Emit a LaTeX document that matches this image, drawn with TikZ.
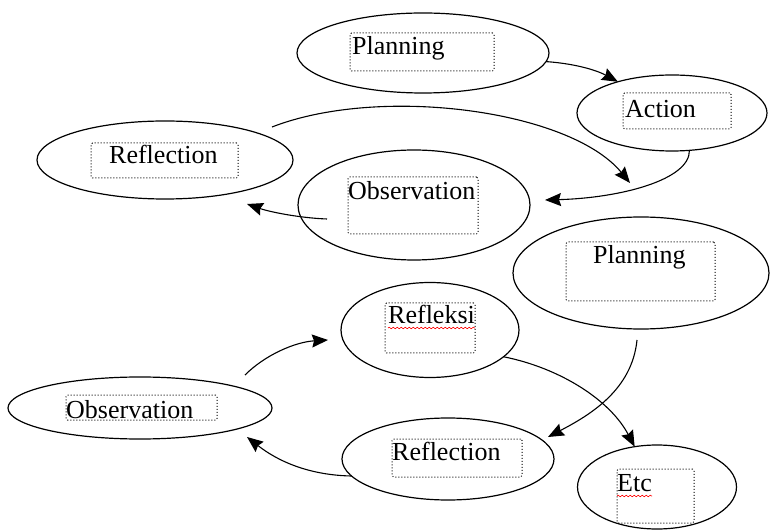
\documentclass[tikz,border=0pt]{standalone}
\usepackage{fontspec}
\setmainfont{Liberation Serif}
\usetikzlibrary{arrows.meta,shapes.geometric,decorations.pathmorphing}
\begin{document}
\begin{tikzpicture}[x=1pt,y=1pt,
 oval/.style={draw=black, line width=1.2pt, ellipse, inner sep=0pt, outer sep=0pt},
 tbox/.style={draw=black, dotted, line width=1pt, rounded corners=1.5pt, inner sep=0pt, outer sep=0pt},
 lbl/.style={font=\fontsize{26}{31}\selectfont, inner sep=0pt, anchor=base west},
 arr/.style={line width=1.1pt, -{Stealth[length=16pt,width=13pt,inset=2pt]}},
 wavy/.style={red, line width=0.6pt, decorate, decoration={snake, amplitude=0.8pt, segment length=4pt}}]
\useasboundingbox (0,0) rectangle (770,530);

% ellipses
\node[oval, minimum width=252pt, minimum height=80pt] (p1) at (423,477) {};
\node[oval, minimum width=190pt, minimum height=76pt] (p2) at (672,417) {};
\node[oval, minimum width=256pt, minimum height=78pt] (p3) at (165,370) {};
\node[oval, minimum width=232pt, minimum height=110pt] (p4) at (414,325) {};
\node[oval, minimum width=256pt, minimum height=112pt] (p5) at (641,257) {};
\node[oval, minimum width=178pt, minimum height=95pt] (p6) at (430,200) {};
\node[oval, minimum width=264pt, minimum height=62pt] (p7) at (140,122) {};
\node[oval, minimum width=212pt, minimum height=82pt] (p8) at (448,71) {};
\node[oval, minimum width=159pt, minimum height=84pt] (p9) at (657,43) {};

% dotted text boxes
\node[tbox, minimum width=144pt, minimum height=38pt] (b1) at (422,478) {};
\node[tbox, minimum width=108pt, minimum height=36pt] (b2) at (677,419) {};
\node[tbox, minimum width=147pt, minimum height=35pt] (b3) at (164.5,369.5) {};
\node[tbox, minimum width=130pt, minimum height=57pt] (b4) at (413,324.5) {};
\node[tbox, minimum width=149pt, minimum height=59pt] (b5) at (640.5,258.5) {};
\node[tbox, minimum width=90pt, minimum height=50pt] (b6) at (430,202) {};
\node[tbox, minimum width=151pt, minimum height=25pt] (b7) at (141.5,122.5) {};
\node[tbox, minimum width=130pt, minimum height=38pt] (b8) at (457,72) {};
\node[tbox, minimum width=77pt, minimum height=54pt] (b9) at (655.5,34) {};

% labels
\node[lbl] (t1) at (352,475) {Planning};
\node[lbl] (t2) at (625,412) {Action};
\node[lbl] (t3) at (109,366) {Reflection};
\node[lbl] (t4) at (348,330) {Observation};
\node[lbl] (t5) at (593,266) {Planning};
\node[lbl] (t6) at (388,206) {Refleksi};
\node[lbl] (t7) at (66,112) {Observation};
\node[lbl] (t8) at (392,70) {Reflection};
\node[lbl] (t9) at (617,39) {Etc};

\draw[wavy] ([yshift=-4pt]t6.base west) -- ([yshift=-4pt]t6.base east);
\draw[wavy] ([yshift=-5pt]t9.base west) -- ([yshift=-5pt]t9.base east);

% free ends
\coordinate (a2s) at (272,403);
\coordinate (a2e) at (630,347);
\coordinate (a4s) at (327,311);
\coordinate (a4e) at (247,326);
\coordinate (a5s) at (637,190);
\coordinate (a5e) at (548,93);
\coordinate (a7e) at (247,93);
\coordinate (a8s) at (245,155);
\coordinate (a8e) at (328,190);
\coordinate (a3e) at (545,330);

% connectors
\draw[arr] (p1.-4) .. controls (580,466) and (600,458) .. (p2.150);
\draw[arr] (a2s) .. controls (380,445) and (570,420) .. (a2e);
\draw[arr] (p2.-65) .. controls (690,350) and (620,332) .. (a3e);
\draw[arr] (a4s) .. controls (300,312) and (270,318) .. (a4e);
\draw[arr] (a5s) .. controls (632,140) and (590,115) .. (a5e);
\draw[arr] (p6.-20) .. controls (560,162) and (610,130) .. (p9.119);
\draw[arr] (p8.190) .. controls (300,55) and (270,75) .. (a7e);
\draw[arr] (a8s) .. controls (265,175) and (295,188) .. (a8e);
\end{tikzpicture}
\end{document}
